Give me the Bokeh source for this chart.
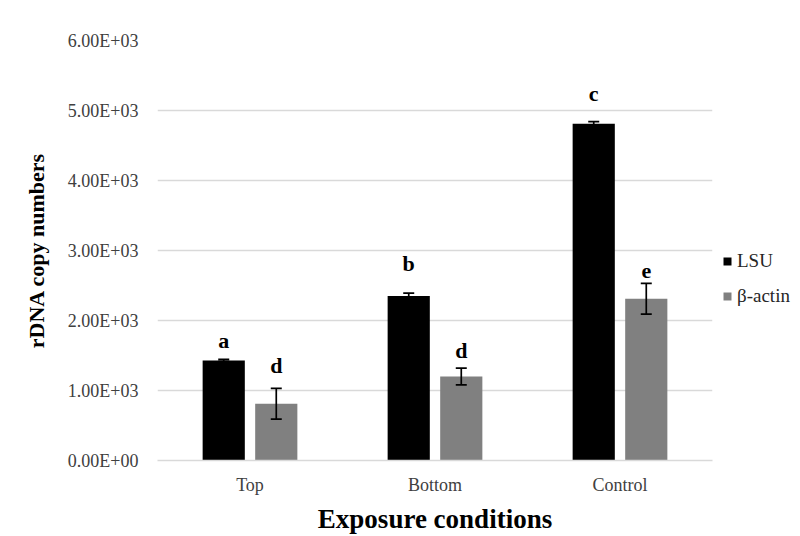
from bokeh.plotting import figure
from bokeh.models import ColumnDataSource, FactorRange, Whisker, TeeHead, Legend, LegendItem, FixedTicker
from bokeh.transform import dodge
from bokeh.core.properties import value
from bokeh.embed import file_html
from bokeh.resources import INLINE

categories = ["Top", "Bottom", "Control"]
lsu = [1430, 2350, 4810]
lsu_err = [15, 40, 30]
actin = [810, 1200, 2310]
actin_err = [220, 120, 220]
lsu_letters = ["a", "b", "c"]
actin_letters = ["d", "d", "e"]
lsu_letter_y = [1614, 2714, 5140]
actin_letter_y = [1257, 1471, 2614]
y_ticks = [0, 1000, 2000, 3000, 4000, 5000, 6000]
y_tick_labels = ["0.00E+00", "1.00E+03", "2.00E+03", "3.00E+03", "4.00E+03", "5.00E+03", "6.00E+03"]

src = ColumnDataSource(dict(
    cat=categories, lsu=lsu, actin=actin,
    lsu_lo=[v - e for v, e in zip(lsu, lsu_err)], lsu_hi=[v + e for v, e in zip(lsu, lsu_err)],
    actin_lo=[v - e for v, e in zip(actin, actin_err)], actin_hi=[v + e for v, e in zip(actin, actin_err)],
    lsu_l=lsu_letters, actin_l=actin_letters, lsu_ly=lsu_letter_y, actin_ly=actin_letter_y,
))

serif = "Liberation Serif"
p = figure(frame_width=555, frame_height=420, x_range=FactorRange(*categories), y_range=(0, 6000),
           output_backend="svg", toolbar_location=None,
           min_border_left=157, min_border_right=0, min_border_top=40, min_border_bottom=72)
p.outline_line_color = None

off = 0.142
bw = 0.228
r1 = p.vbar(x=dodge("cat", -off, range=p.x_range), top="lsu", width=bw, source=src,
            fill_color="#000000", line_color=None)
r2 = p.vbar(x=dodge("cat", off, range=p.x_range), top="actin", width=bw, source=src,
            fill_color="#808080", line_color=None)

for base, lo, hi in [(dodge("cat", -off, range=p.x_range), "lsu_lo", "lsu_hi"),
                     (dodge("cat", off, range=p.x_range), "actin_lo", "actin_hi")]:
    w = Whisker(base=base, lower=lo, upper=hi, source=src, line_color="black", line_width=1.7,
                level="overlay",
                upper_head=TeeHead(size=11, line_color="black", line_width=1.7),
                lower_head=TeeHead(size=11, line_color="black", line_width=1.7))
    p.add_layout(w)

for xcol, lcol, ycol in [(-off, "lsu_l", "lsu_ly"), (off, "actin_l", "actin_ly")]:
    p.text(x=dodge("cat", xcol, range=p.x_range), y=ycol, text=lcol, source=src,
           text_font=value(serif), text_font_style="bold", text_font_size="22px",
           text_align="center", text_baseline="alphabetic", text_color="black", y_offset=-7)

p.xgrid.grid_line_color = None
p.ygrid.grid_line_color = "#d9d9d9"
p.ygrid.grid_line_width = 1.5

p.yaxis.ticker = FixedTicker(ticks=y_ticks)
p.yaxis.major_label_overrides = {t: l for t, l in zip(y_ticks, y_tick_labels)}
p.yaxis.axis_line_color = None
p.yaxis.major_tick_line_color = None
p.yaxis.minor_tick_line_color = None
p.yaxis.major_label_standoff = 13
p.yaxis.axis_label = "rDNA copy numbers"
p.yaxis.axis_label_standoff = 16
p.yaxis.axis_label_text_font_size = "22px"

p.xaxis.axis_line_color = "#d9d9d9"
p.xaxis.axis_line_width = 1.5
p.xaxis.major_tick_line_color = None
p.xaxis.major_label_standoff = 8
p.xaxis.axis_label = "Exposure conditions"
p.xaxis.axis_label_standoff = 6
p.xaxis.axis_label_text_font_size = "27px"

for ax in (p.xaxis, p.yaxis):
    ax.major_label_text_font = serif
    ax.major_label_text_font_size = "18px"
    ax.major_label_text_color = "#404040"
    ax.axis_label_text_font = serif
    ax.axis_label_text_font_style = "bold"
    ax.axis_label_text_color = "black"

legend = Legend(items=[LegendItem(label="LSU", renderers=[r1]), LegendItem(label="β-actin", renderers=[r2])],
                location=(10, 153), border_line_color=None, background_fill_alpha=0,
                glyph_width=10, glyph_height=10, label_text_font=serif, label_text_font_size="19px",
                label_height=20, label_text_color="#262626", spacing=13, padding=2, label_standoff=5, margin=8)
p.add_layout(legend, "right")

open("out.html", "w").write(file_html(p, INLINE))
